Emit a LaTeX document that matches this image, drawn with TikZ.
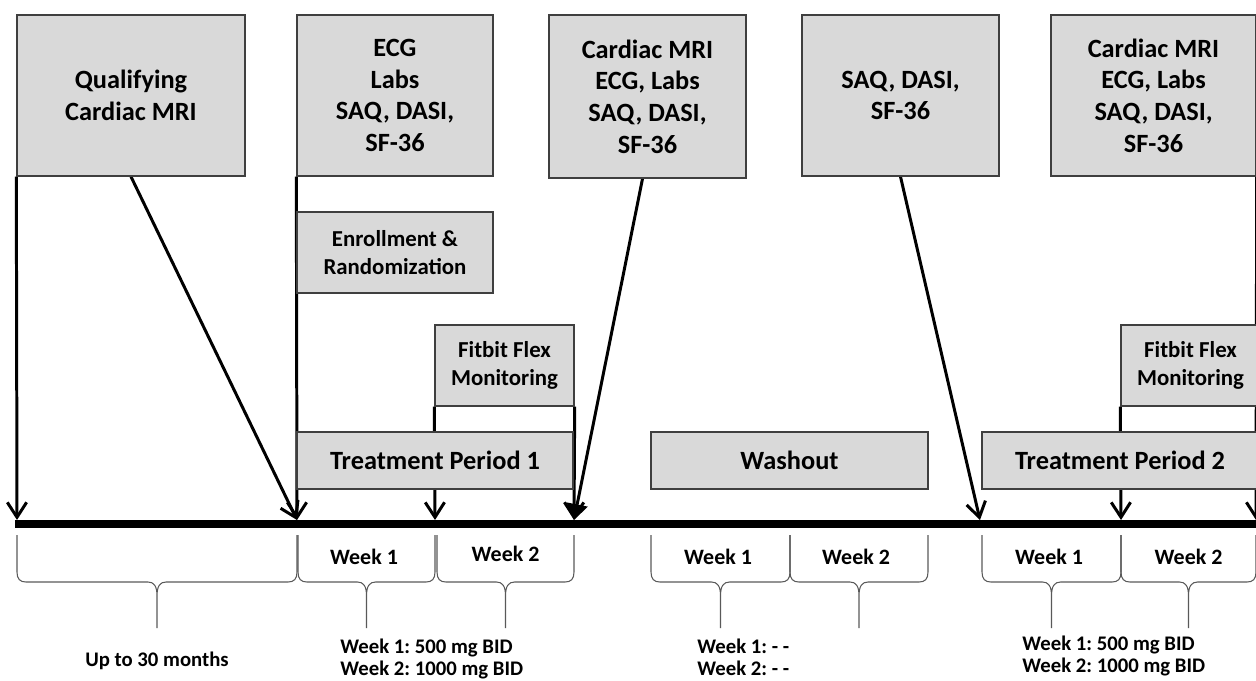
\documentclass[tikz,border=0pt]{standalone}
\usepackage{fontspec}
\setmainfont{Carlito}
\usetikzlibrary{arrows.meta,backgrounds}
\frenchspacing

\definecolor{boxfill}{HTML}{D9D9D9}
\definecolor{boxline}{HTML}{3F3F3F}
\definecolor{bracegray}{HTML}{595959}

\tikzset{
	box/.style={draw=boxline, fill=boxfill, line width=0.8pt, inner sep=0pt, align=center,
		font=\fontsize{15}{18}\selectfont\bfseries},
	smallbox/.style={box, font=\fontsize{13}{16.4}\selectfont\bfseries},
	fitbox/.style={box, font=\fontsize{13}{16}\selectfont\bfseries},
	arr/.style={line width=1.7pt, -{Straight Barb[length=8.5pt,width=11pt]}},
	weekbrace/.style={draw=bracegray, line width=0.6pt},
	weeklabel/.style={font=\fontsize{12.5}{14}\selectfont\bfseries},
	dose/.style={font=\fontsize{11.8}{12.5}\selectfont\bfseries, align=left, anchor=west, inner sep=0pt}
}

\begin{document}
\begin{tikzpicture}[x=0.02cm, y=-0.02cm]
	\useasboundingbox (0,0) rectangle (1256,680);

	% assessment boxes
	\node[box, minimum width=4.56cm, minimum height=3.22cm] (qual) at (131,95.5) {Qualifying\\Cardiac MRI};
	\node[box, minimum width=3.92cm, minimum height=3.22cm] (base) at (395,95.5) {ECG\\Labs\\SAQ, DASI,\\SF-36};
	\node[box, minimum width=3.94cm, minimum height=3.26cm] (mid) at (647.5,96.5) {Cardiac MRI\\ECG, Labs\\SAQ, DASI,\\SF-36};
	\node[box, minimum width=3.94cm, minimum height=3.22cm] (quest) at (900.5,95.5) {SAQ, DASI,\\SF-36};
	\node[box, minimum width=4.10cm, minimum height=3.22cm] (final) at (1153.5,95.5) {Cardiac MRI\\ECG, Labs\\SAQ, DASI,\\SF-36};
	\node[smallbox, minimum width=3.92cm, minimum height=1.62cm] (enrol) at (395,252.5) {Enrollment \&\\Randomization};
	\node[fitbox, minimum width=2.78cm, minimum height=1.62cm] (fit1) at (504.5,365.5) {Fitbit Flex\\Monitoring};
	\node[fitbox, minimum width=2.78cm, minimum height=1.62cm] (fit2) at (1190.5,365.5) {Fitbit Flex\\Monitoring};

	% periods
	\node[box, minimum width=5.52cm, minimum height=1.14cm] (tp1) at (435,460.5) {Treatment Period 1};
	\node[box, minimum width=5.54cm, minimum height=1.14cm] (wash) at (789.5,460.5) {Washout};
	\node[box, minimum width=5.52cm, minimum height=1.14cm] (tp2) at (1120,460.5) {Treatment Period 2};

	% time line
	\coordinate (tlstart) at (15,524);
	\coordinate (tlend) at (1262,524);
	\foreach \x/\n in {17/t0, 297/t1, 435/t2, 574/t3, 980/t4, 1121/t5, 1256/t6}
		\coordinate (\n) at (\x,520);
	\draw[line width=4.3pt] (tlstart) -- (tlend);

	\begin{scope}[on background layer]
		\draw[arr] (qual.south west) -- (t0);
		\draw[arr] (qual.south) -- (t1);
		\draw[arr] (base.south west) -- (t1);
		\draw[arr] (fit1.south west) -- (t2);
		\draw[arr] (fit1.south east) -- (t3);
		\draw[arr, -{Triangle[length=9pt,width=12pt]}] ([xshift=-0.1cm]mid.south) -- (t3);
		\draw[arr] (quest.south) -- (t4);
		\draw[arr] (fit2.south west) -- (t5);
		\draw[arr] (final.south east) -- (t6);
	\end{scope}

	% braces under the weeks
	\foreach \xa/\xb in {17/297, 298/435, 437/574, 651/790, 790/928, 982/1121, 1121/1256} {
		\pgfmathsetmacro\xm{(\xa+\xb)/2}
		\draw[weekbrace] (\xa,535) -- (\xa,572) .. controls (\xa,579) and (\xa+3,582) .. (\xa+9,582)
			-- (\xm-9,582) .. controls (\xm-3,582) and (\xm,586) .. (\xm,596) -- (\xm,628)
			-- (\xm,596) .. controls (\xm,586) and (\xm+3,582) .. (\xm+9,582)
			-- (\xb-9,582) .. controls (\xb-3,582) and (\xb,579) .. (\xb,572) -- (\xb,535);
	}
	\foreach \x/\y/\t/\n in {364/557/Week 1/wka, 505.5/554/Week 2/wkb, 718/557/Week 1/wkc,
			856/557/Week 2/wkd, 1049/557/Week 1/wke, 1188.5/557/Week 2/wkf}
		\node[weeklabel] (\n) at (\x,\y) {\t};

	% doses
	\node[dose, anchor=center] (months) at (157,661) {Up to 30 months};
	\node[dose] (dose1) at (340,659) {Week 1: 500 mg BID\\Week 2: 1000 mg BID};
	\node[dose] (dose0) at (697,657) {Week 1: - -\\Week 2: - -};
	\node[dose] (dose2) at (1022,656) {Week 1: 500 mg BID\\Week 2: 1000 mg BID};
\end{tikzpicture}
\end{document}
